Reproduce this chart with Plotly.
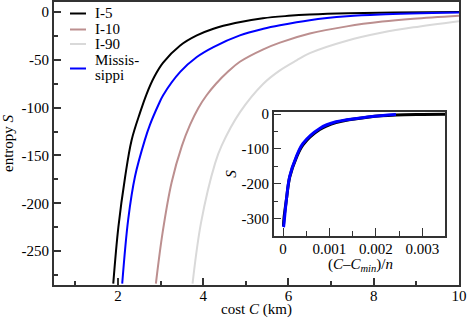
import plotly.graph_objects as go

# ---------------- data ----------------
series_names = ["I-5", "I-10", "I-90", "Missis-<br>sippi"]
series_colors = ["#000000", "#bc8f8f", "#d9d9d9", "#0000ff"]

i5_cost = [1.89, 2.01, 2.17, 2.32, 2.52, 2.67, 2.85, 3.06, 3.46, 3.85, 4.24, 4.75, 5.4, 6.0, 6.5, 7.4, 8.5, 10.0]
i5_S = [-284, -225, -172, -134, -105, -86, -68, -53, -35, -24.5, -17.5, -11.5, -6.5, -4, -2.6, -1.2, -0.5, 0]

i10_cost = [2.89, 3.05, 3.26, 3.50, 3.69, 3.89, 4.08, 4.30, 4.59, 4.86, 5.41, 5.80, 6.5, 7.37, 8.2, 8.93, 10.0]
i10_S = [-284, -230, -178, -140, -118, -100, -87, -75, -62, -52, -39, -32, -22.5, -15, -10, -7, -3.8]

i90_cost = [3.75, 3.95, 4.28, 4.43, 4.86, 5.41, 5.8, 6.19, 6.5, 7.37, 8.2, 8.93, 10.0]
i90_S = [-284, -220, -158, -140, -105, -75, -61, -50.5, -43, -30, -21.5, -16, -9.5]

miss_cost = [2.10, 2.24, 2.40, 2.63, 2.75, 2.95, 3.06, 3.46, 3.85, 4.24, 4.86, 5.41, 5.80, 6.5, 7.37, 8.15, 10.0]
miss_S = [-284, -217, -172, -134, -118, -97, -87, -62.6, -47, -36.6, -24.4, -17.5, -13.8, -8.5, -4.5, -2.6, -0.5]

# inset: collapsed curves, x = (C - Cmin)/n
inset_black_x = [0.00001, 0.00002, 0.000073, 0.000144, 0.000287, 0.00043, 0.00079, 0.00114, 0.00186, 0.00243, 0.0030, 0.00349]
inset_black_S = [-322, -300, -246, -181, -125, -88, -44, -24, -8, -2.5, -1, -0.5]
inset_blue_x = [0.00001, 0.000015, 0.000073, 0.000144, 0.000287, 0.00043, 0.00079, 0.00114, 0.00186, 0.00243]
inset_blue_S = [-325, -322, -246, -179, -122, -84, -41, -22, -7.6, -1]

main_yticks = [0, -50, -100, -150, -200, -250]
main_yticktext = ["0", "-50", "-100", "-150", "-200", "-250"]
main_xticks = [2, 4, 6, 8, 10]
inset_yticks = [0, -100, -200, -300]
inset_yticktext = ["0", "-100", "-200", "-300"]
inset_xticks = [0, 0.001, 0.002, 0.003]
inset_xticktext = ["0", "0.001", "0.002", "0.003"]

# ---------------- figure ----------------
FONT = "Liberation Serif"
W, H = 469, 318
ML, MR, MT, MB = 54, 10, 2, 33
PW, PH = W - ML - MR, H - MT - MB

fig = go.Figure()

main = [(i5_cost, i5_S, 0), (i10_cost, i10_S, 1), (i90_cost, i90_S, 2), (miss_cost, miss_S, 3)]
for xs, ys, k in main:
    fig.add_trace(go.Scatter(x=xs, y=ys, mode="lines", name=series_names[k],
                             line=dict(color=series_colors[k], width=2, shape="spline", smoothing=1.0),
                             xaxis="x", yaxis="y", showlegend=False))

fig.add_trace(go.Scatter(x=inset_black_x, y=inset_black_S, mode="lines",
                         line=dict(color="#000000", width=3, shape="spline", smoothing=1.0),
                         xaxis="x2", yaxis="y2", showlegend=False))
fig.add_trace(go.Scatter(x=inset_blue_x, y=inset_blue_S, mode="lines",
                         line=dict(color="#0000ff", width=3, shape="spline", smoothing=1.0),
                         xaxis="x2", yaxis="y2", showlegend=False))

axis_common = dict(showgrid=False, zeroline=False, showline=True, linecolor="#333333",
                   mirror=True, ticks="inside", tickcolor="#333333", automargin=False,
                   tickfont=dict(family=FONT, size=15, color="black"))

fig.update_layout(
    template="none",
    width=W, height=H,
    margin=dict(l=ML, r=MR, t=MT, b=MB, pad=0),
    paper_bgcolor="white", plot_bgcolor="white",
    font=dict(family=FONT, size=15, color="black"),
    showlegend=False,
    xaxis=dict(**axis_common, range=[0.5, 10.0001], tickvals=main_xticks, linewidth=2,
               ticklen=7, tickwidth=1.5, ticklabelstandoff=-4,
               minor=dict(ticks="inside", dtick=1, tick0=0, ticklen=4, tickcolor="#333333", tickwidth=1.5),
               title=dict(text="cost <i>C</i> (km)", font=dict(family=FONT, size=15), standoff=0),
               domain=[0, 1]),
    yaxis=dict(**axis_common, range=[-285.5, 10.5], tickvals=main_yticks, ticktext=main_yticktext,
               linewidth=2, ticklen=7, tickwidth=1.5,
               minor=dict(ticks="inside", dtick=25, tick0=0, ticklen=4, tickcolor="#333333", tickwidth=1.5),
               title=dict(text="entropy <i>S</i>", font=dict(family=FONT, size=15), standoff=12),
               domain=[0, 1]),
    xaxis2=dict(**axis_common, range=[-0.0002, 0.00349], tickvals=inset_xticks, ticktext=inset_xticktext,
                linewidth=1.5, ticklen=8, tickwidth=1.2, anchor="y2", ticklabelstandoff=-2,
                minor=dict(ticks="inside", dtick=0.0005, tick0=0, ticklen=5, tickcolor="#333333", tickwidth=1.2),
                domain=[0.5425, 0.966]),
    yaxis2=dict(**axis_common, range=[-350, 6], tickvals=inset_yticks, ticktext=inset_yticktext,
                linewidth=1.5, ticklen=8, tickwidth=1.2, anchor="x2",
                minor=dict(ticks="inside", dtick=50, tick0=0, ticklen=5, tickcolor="#333333", tickwidth=1.2),
                title=dict(text="<i>S</i>", font=dict(family=FONT, size=15), standoff=1),
                domain=[0.174, 0.611]),
)

def px2paper(px, py):
    return (px - ML) / PW, (H - MB - py) / PH

# inset x-axis title (placed tight under its tick labels, as in the original)
tx, ty = px2paper(360, 265)
fig.add_annotation(text="(<i>C</i>–<i>C</i><sub><i>min</i></sub>)/<i>n</i>", xref="paper", yref="paper",
                   x=tx, y=ty, xanchor="center", yanchor="middle", showarrow=False,
                   font=dict(family=FONT, size=15, color="black"))

# compact manual legend, as in the original
legend_line_y = [13.5, 29.5, 44, 68.5]
legend_text_pos = [[(93, 13)], [(93, 29)], [(93, 44)], [(93, 60), (93, 75)]]
for k in range(4):
    x0, y0 = px2paper(70, legend_line_y[k])
    x1, _ = px2paper(86, legend_line_y[k])
    fig.add_shape(type="line", xref="paper", yref="paper", x0=x0, x1=x1, y0=y0, y1=y0,
                  line=dict(color=series_colors[k], width=2))
    parts = series_names[k].split("<br>")
    for part, (lx, ly) in zip(parts, legend_text_pos[k]):
        ax, ay = px2paper(lx, ly)
        fig.add_annotation(text=part, xref="paper", yref="paper", x=ax, y=ay,
                           xanchor="left", yanchor="middle", showarrow=False,
                           font=dict(family=FONT, size=15, color="black"))

fig.write_html("out.html", config={"displayModeBar": False},
               post_script="document.body.style.margin='0px';document.body.style.padding='0px';")
